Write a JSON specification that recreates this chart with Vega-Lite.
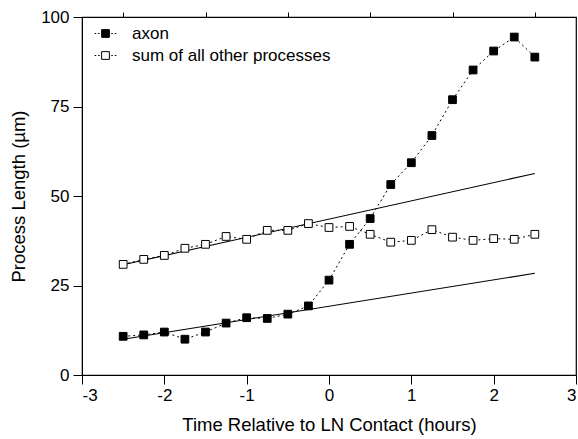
{
  "$schema": "https://vega.github.io/schema/vega-lite/v6.json",
  "width": 494,
  "height": 358,
  "padding": {"left": 82, "top": 17, "right": 2, "bottom": 64},
  "autosize": {"type": "none"},
  "background": "white",
  "config": {
    "font": "Liberation Sans",
    "view": {"stroke": "black", "strokeWidth": 1.2},
    "axis": {
      "grid": false,
      "domainColor": "black",
      "tickColor": "black",
      "labelColor": "black",
      "titleColor": "black",
      "labelFont": "Liberation Sans",
      "titleFont": "Liberation Sans",
      "labelFontSize": 17,
      "titleFontSize": 18.5,
      "titleFontWeight": "normal",
      "tickSize": 9
    },
    "legend": {
      "labelFont": "Liberation Sans",
      "labelFontSize": 17,
      "labelColor": "black",
      "labelLimit": 400
    }
  },
  "datasets": {
    "series": [
      {"t": -2.5, "length": 10.8, "series": "axon"},
      {"t": -2.25, "length": 11.2, "series": "axon"},
      {"t": -2.0, "length": 12.0, "series": "axon"},
      {"t": -1.75, "length": 10.0, "series": "axon"},
      {"t": -1.5, "length": 12.0, "series": "axon"},
      {"t": -1.25, "length": 14.5, "series": "axon"},
      {"t": -1.0, "length": 16.0, "series": "axon"},
      {"t": -0.75, "length": 15.8, "series": "axon"},
      {"t": -0.5, "length": 17.0, "series": "axon"},
      {"t": -0.25, "length": 19.3, "series": "axon"},
      {"t": 0.0, "length": 26.5, "series": "axon"},
      {"t": 0.25, "length": 36.5, "series": "axon"},
      {"t": 0.5, "length": 43.7, "series": "axon"},
      {"t": 0.75, "length": 53.2, "series": "axon"},
      {"t": 1.0, "length": 59.3, "series": "axon"},
      {"t": 1.25, "length": 66.9, "series": "axon"},
      {"t": 1.5, "length": 76.9, "series": "axon"},
      {"t": 1.75, "length": 85.2, "series": "axon"},
      {"t": 2.0, "length": 90.5, "series": "axon"},
      {"t": 2.25, "length": 94.4, "series": "axon"},
      {"t": 2.5, "length": 88.8, "series": "axon"},
      {"t": -2.5, "length": 30.9, "series": "sum of all other processes"},
      {"t": -2.25, "length": 32.3, "series": "sum of all other processes"},
      {"t": -2.0, "length": 33.4, "series": "sum of all other processes"},
      {"t": -1.75, "length": 35.4, "series": "sum of all other processes"},
      {"t": -1.5, "length": 36.5, "series": "sum of all other processes"},
      {"t": -1.25, "length": 38.7, "series": "sum of all other processes"},
      {"t": -1.0, "length": 37.9, "series": "sum of all other processes"},
      {"t": -0.75, "length": 40.4, "series": "sum of all other processes"},
      {"t": -0.5, "length": 40.4, "series": "sum of all other processes"},
      {"t": -0.25, "length": 42.3, "series": "sum of all other processes"},
      {"t": 0.0, "length": 41.2, "series": "sum of all other processes"},
      {"t": 0.25, "length": 41.5, "series": "sum of all other processes"},
      {"t": 0.5, "length": 39.3, "series": "sum of all other processes"},
      {"t": 0.75, "length": 37.1, "series": "sum of all other processes"},
      {"t": 1.0, "length": 37.6, "series": "sum of all other processes"},
      {"t": 1.25, "length": 40.6, "series": "sum of all other processes"},
      {"t": 1.5, "length": 38.5, "series": "sum of all other processes"},
      {"t": 1.75, "length": 37.6, "series": "sum of all other processes"},
      {"t": 2.0, "length": 38.1, "series": "sum of all other processes"},
      {"t": 2.25, "length": 37.9, "series": "sum of all other processes"},
      {"t": 2.5, "length": 39.3, "series": "sum of all other processes"}
    ],
    "fits": [
      {"t": -2.5, "length": 30.8, "fit": "other"},
      {"t": 2.5, "length": 56.3, "fit": "other"},
      {"t": -2.5, "length": 10.0, "fit": "axon"},
      {"t": 2.5, "length": 28.4, "fit": "axon"}
    ]
  },
  "resolve": {"axis": {"x": "independent"}},
  "layer": [
    {
      "data": {"name": "fits"},
      "mark": {"type": "line", "color": "black", "strokeWidth": 1.1},
      "encoding": {
        "x": {"field": "t", "type": "quantitative", "scale": {"domain": [-3, 3], "nice": false},
              "axis": {"values": [-3, -2, -1, 0, 1, 2, 3], "labelExpr": "'' + datum.value", "title": "Time Relative to LN Contact (hours)", "labelPadding": 3, "titlePadding": 12}},
        "y": {"field": "length", "type": "quantitative", "scale": {"domain": [0, 100], "nice": false},
              "axis": {"values": [0, 25, 50, 75, 100], "title": "Process Length (µm)", "labelPadding": 4, "titlePadding": 12}},
        "detail": {"field": "fit"}
      }
    },
    {
      "data": {"name": "series"},
      "mark": {"type": "line", "color": "black", "strokeWidth": 1, "strokeDash": [2, 3]},
      "encoding": {
        "x": {"field": "t", "type": "quantitative",
              "axis": {"values": [-2.5, -1.5, -0.5, 0.5, 1.5, 2.5], "labels": false, "domain": false, "tickSize": 5, "title": null}},
        "y": {"field": "length", "type": "quantitative"},
        "detail": {"field": "series"}
      }
    },
    {
      "data": {"name": "series"},
      "mark": {"type": "point", "shape": "square", "size": 60, "stroke": "black", "strokeWidth": 1, "opacity": 1, "filled": true},
      "encoding": {
        "x": {"field": "t", "type": "quantitative", "axis": null},
        "y": {"field": "length", "type": "quantitative"},
        "fill": {
          "field": "series", "type": "nominal",
          "scale": {"domain": ["axon", "sum of all other processes"], "range": ["black", "white"]},
          "legend": {
            "title": null,
            "orient": "top-left",
            "offset": 8,
            "padding": 0,
            "symbolType": "M-2.8,0H-2.4M-1.9,0H-1.5M-1,-1H1V1H-1ZM1.5,0H1.9M2.4,0H2.8",
            "symbolSize": 60,
            "symbolStrokeColor": "black",
            "symbolStrokeWidth": 1,
            "symbolOpacity": 1,
            "labelOffset": 18,
            "rowPadding": 4,
            "symbolOffset": 7
          }
        }
      }
    }
  ]
}
